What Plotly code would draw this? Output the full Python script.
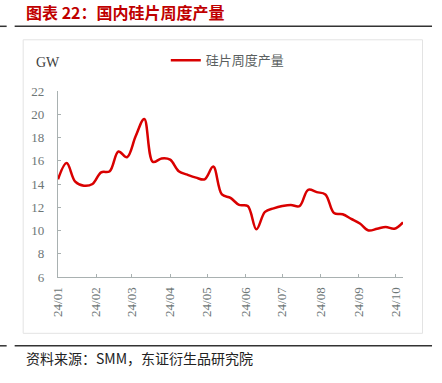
import plotly.graph_objects as go
import pandas as pd

# weekly silicon wafer output (GW), 2024
dates = pd.date_range("2024-01-01", periods=41, freq="7D")
output_gw = [14.4, 15.8, 14.2, 13.85, 14.0, 15.0, 15.1, 16.8, 16.3, 18.1,
             19.6, 15.9, 16.2, 16.1, 15.1, 14.8, 14.55, 14.4, 15.5, 13.1,
             12.8, 12.2, 12.1, 10.1, 11.6, 11.9, 12.1, 12.2, 12.1, 13.5,
             13.3, 13.1, 11.5, 11.4, 11.0, 10.6, 10.0, 10.15, 10.3, 10.15,
             10.7]
tick_dates = pd.date_range("2024-01-01", periods=10, freq="MS")
tick_labels = [d.strftime("%y/%m") for d in tick_dates]
y_ticks = [6, 8, 10, 12, 14, 16, 18, 20, 22]

W, H = 442, 383
L, R, T, B = 58.3, 403.0, 90.7, 276.7

def px(x):
    return (x - L) / (R - L)

def py(y):
    return (B - y) / (B - T)

fig = go.Figure()
fig.add_trace(go.Scatter(
    x=dates, y=output_gw, mode="lines", name="硅片周度产量",
    line=dict(color="#d90000", width=2.5, shape="spline", smoothing=1.0),
))

axis_col = "#a9b1b1"
tick_font = dict(family="Liberation Serif, Times New Roman, serif", size=13, color="#6d7676")

fig.update_layout(
    width=W, height=H,
    margin=dict(l=L, r=W - R, t=T, b=H - B, pad=0),
    paper_bgcolor="white", plot_bgcolor="white",
    showlegend=True,
    legend=dict(x=px(166), y=py(60), xanchor="left", yanchor="middle",
                orientation="h", bgcolor="rgba(0,0,0,0)",
                font=dict(family="Noto Sans CJK SC", size=13, color="#5a5f5f"),
                itemwidth=30, tracegroupgap=0),
    xaxis=dict(
        type="date", range=[dates[0], dates[-1]],
        tickmode="array", tickvals=tick_dates, ticktext=tick_labels,
        tickangle=-90, tickfont=tick_font,
        showgrid=False, zeroline=False,
        showline=True, linecolor=axis_col, linewidth=1.3,
        ticks="inside", ticklen=3, tickcolor=axis_col,
        ticklabelstandoff=4,
    ),
    yaxis=dict(
        range=[6, 22], tickvals=y_ticks, tickfont=tick_font,
        showgrid=False, zeroline=False,
        showline=True, linecolor=axis_col, linewidth=1.3,
        ticks="inside", ticklen=3, tickcolor=axis_col,
        ticklabelstandoff=10,
    ),
)

shapes = [
    # chart frame
    dict(type="rect", xref="paper", yref="paper", x0=px(23.5), x1=px(422.5), y0=py(333), y1=py(39.5),
         line=dict(color="#e3e3e3", width=1), layer="below"),
    # top rules
    dict(type="line", xref="paper", yref="paper", x0=px(0), x1=px(7), y0=py(26), y1=py(26),
         line=dict(color="#333333", width=1.5)),
    dict(type="line", xref="paper", yref="paper", x0=px(15), x1=px(432), y0=py(26), y1=py(26),
         line=dict(color="#333333", width=1.5)),
    # bottom rules
    dict(type="line", xref="paper", yref="paper", x0=px(0), x1=px(7), y0=py(345.5), y1=py(345.5),
         line=dict(color="#333333", width=1.5)),
    dict(type="line", xref="paper", yref="paper", x0=px(15), x1=px(432), y0=py(345.5), y1=py(345.5),
         line=dict(color="#333333", width=1.5)),
]
fig.update_layout(shapes=shapes)

fig.add_annotation(xref="paper", yref="paper", x=px(24), y=py(12), xanchor="left", yanchor="middle",
                   text="<b>图表 22：国内硅片周度产量</b>", showarrow=False,
                   font=dict(family="Noto Sans CJK SC", size=16, color="#c00000"))
fig.add_annotation(xref="paper", yref="paper", x=px(34), y=py(62), xanchor="left", yanchor="middle",
                   text="GW", showarrow=False,
                   font=dict(family="Liberation Serif, serif", size=14, color="#404040"))
fig.add_annotation(xref="paper", yref="paper", x=px(24), y=py(358), xanchor="left", yanchor="middle",
                   text="资料来源：SMM，东证衍生品研究院", showarrow=False,
                   font=dict(family="Noto Sans CJK SC", size=14, color="#222222"))

fig.write_html("out.html", config={"displayModeBar": False},
               post_script="document.body.style.margin='0px';document.body.style.overflow='hidden';")
